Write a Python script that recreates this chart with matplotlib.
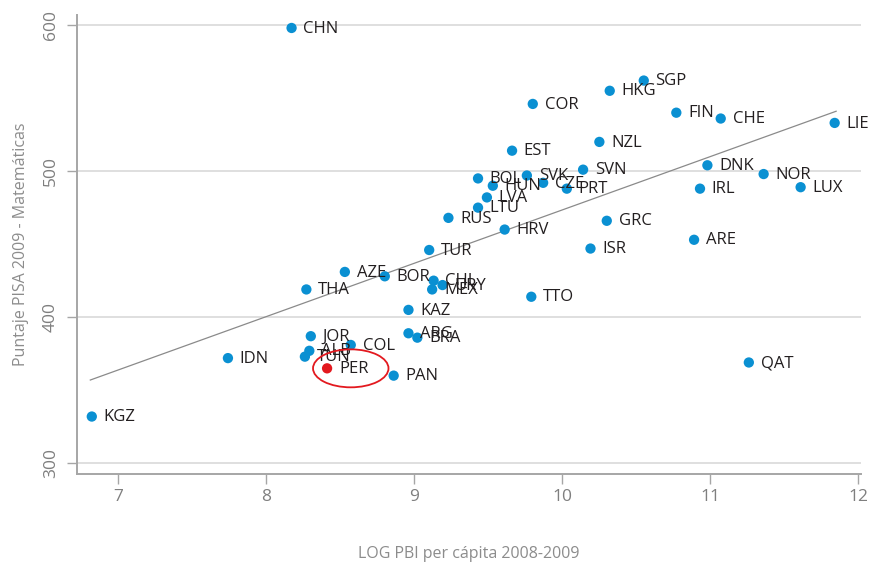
import matplotlib
matplotlib.use("Agg")
import matplotlib.pyplot as plt
from matplotlib.patches import Ellipse

# data
countries = ["CHN", "SGP", "HKG", "COR", "FIN", "CHE", "LIE", "NZL", "EST", "DNK",
             "SVN", "NOR", "SVK", "BOL", "HUN", "CZE", "PRT", "IRL", "LUX", "LVA",
             "LTU", "RUS", "GRC", "HRV", "TUR", "ISR", "ARE", "AZE", "BOR", "CHL",
             "URY", "MEX", "THA", "TTO", "KAZ", "JOR", "ARG", "BRA", "COL", "ALB",
             "TUN", "IDN", "PER", "PAN", "QAT", "KGZ"]
log_gdp = [8.17, 10.55, 10.32, 9.80, 10.77, 11.07, 11.84, 10.25, 9.66, 10.98,
           10.14, 11.36, 9.76, 9.43, 9.53, 9.87, 10.03, 10.93, 11.61, 9.49,
           9.43, 9.23, 10.30, 9.61, 9.10, 10.19, 10.89, 8.53, 8.80, 9.13,
           9.19, 9.12, 8.27, 9.79, 8.96, 8.30, 8.96, 9.02, 8.57, 8.29,
           8.26, 7.74, 8.41, 8.86, 11.26, 6.82]
pisa_math = [598, 562, 555, 546, 540, 536, 533, 520, 514, 504,
             501, 498, 497, 495, 490, 492, 488, 488, 489, 482,
             475, 468, 466, 460, 446, 447, 453, 431, 428, 425,
             422, 419, 419, 414, 405, 387, 389, 386, 381, 377,
             373, 372, 365, 360, 369, 332]

trend_x = [6.81, 11.85]
trend_y = [357, 541]

highlight = "PER"

blue = "#0a90d2"
red = "#e3191f"
grey = "#8c8c8c"

plt.rcParams["font.family"] = ["Open Sans", "DejaVu Sans"]

fig = plt.figure(figsize=(8.7, 5.7), dpi=100)
ax = fig.add_axes([0.0885, 0.168, 0.9015, 0.806])

for y in [300, 400, 500, 600]:
    ax.axhline(y, color="#d9d9d9", linewidth=1.2, zorder=0)

ax.plot(trend_x, trend_y, color="#8a8a8a", linewidth=0.9, zorder=1)

colors = [red if c == highlight else blue for c in countries]
ax.scatter(log_gdp, pisa_math, s=55, c=colors, edgecolors="none", zorder=3)

for c, x, y in zip(countries, log_gdp, pisa_math):
    ax.annotate(c, (x, y), xytext=(8.5, -0.5), textcoords="offset points",
                va="center", ha="left", fontsize=12, color="#231f20", zorder=4,
                annotation_clip=False)

i = countries.index(highlight)
ax.add_patch(Ellipse((log_gdp[i] + 0.16, pisa_math[i]), 0.51, 26,
                     fill=False, edgecolor=red, linewidth=1.3, zorder=5))

ax.set_xlim(6.72, 12.02)
ax.set_ylim(292.5, 607)
ax.set_xticks([7, 8, 9, 10, 11, 12])
ax.set_yticks([300, 400, 500, 600])
ax.set_yticklabels(["300", "400", "500", "600"], rotation=90, va="center")

for s in ["top", "right"]:
    ax.spines[s].set_visible(False)
for s in ["left", "bottom"]:
    ax.spines[s].set_color("#a6a6a6")
    ax.spines[s].set_linewidth(1.4)

ax.tick_params(axis="both", colors="#a6a6a6", labelcolor="#7f7f7f",
               labelsize=12.5, length=7, width=1)
ax.tick_params(axis="y", pad=6)

ax.set_xlabel("LOG PBI per cápita 2008-2009", color=grey, fontsize=11.5, labelpad=30)
ax.set_ylabel("Puntaje PISA 2009 - Matemáticas", color=grey, fontsize=11.5, labelpad=10)

fig.savefig("out.png", dpi=100)
